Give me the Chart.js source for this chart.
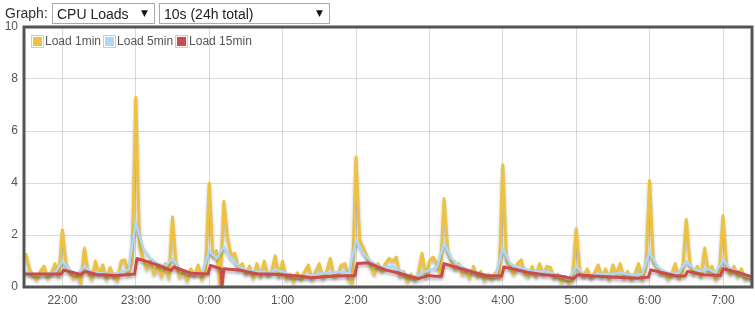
<!DOCTYPE html>
<html>
<head>
<meta charset="utf-8">
<script src="https://cdn.jsdelivr.net/npm/chart.js@4"></script>
<style>
html, body { margin: 0; padding: 0; background: #fff; }
body { width: 755px; height: 309px; position: relative; overflow: hidden; font-family: "Liberation Sans", Arial, sans-serif; }
#wrap { position: absolute; left: 0; top: 0; width: 755px; height: 309px; }
#bar { position: absolute; left: 0; top: 0; font-size: 14px; color: #333; }
#bar label { position: absolute; left: 5px; top: 5px; white-space: nowrap; }
.sel { position: absolute; top: 3px; height: 21px; border: 1px solid #a9a9a9; box-sizing: border-box; background: #fff; }
.sel select { appearance: none; -webkit-appearance: none; border: 0; background: transparent; font: 14px "Liberation Sans", Arial, sans-serif; color: #222; height: 19px; width: 100%; padding: 0 0 0 4px; margin: 0; outline: none; }
.sel span { position: absolute; right: 6px; top: 4px; font: 9px "DejaVu Sans", sans-serif; color: #111; pointer-events: none; }
#legend { position: absolute; left: 31px; top: 34px; font-size: 12px; color: #545454; display: flex; align-items: center; white-space: nowrap; }
#legend i { display: inline-block; border: 1px solid #ccc; padding: 1px; margin-right: 1px; }
#legend i b { display: block; width: 9px; height: 9px; }
#legend em { font-style: normal; margin-right: 2px; }
</style>
</head>
<body>
<div id="wrap"><canvas id="cpu_chart" width="755" height="309"></canvas></div>
<div id="bar">
  <label>Graph:</label>
  <div class="sel" style="left:52px;width:103px"><select><option>CPU Loads</option></select><span>&#9660;</span></div>
  <div class="sel" style="left:159px;width:171px"><select><option>10s (24h total)</option></select><span>&#9660;</span></div>
</div>
<div id="legend">
  <i><b style="background:#edc240"></b></i><em>Load 1min</em>
  <i><b style="background:#afd8f8"></b></i><em>Load 5min</em>
  <i><b style="background:#cb4b4b"></b></i><em>Load 15min</em>
</div>
<script>
// x axis is minutes relative to midnight
const hourTicks = [-120, -60, 0, 60, 120, 180, 240, 300, 360, 420];
const hourLabels = ['22:00', '23:00', '0:00', '1:00', '2:00', '3:00', '4:00', '5:00', '6:00', '7:00'];
const yTicks = [0, 2, 4, 6, 8, 10];

// load 1min, one sample every 3 minutes from 21:30
const t1Start = -150, t1Step = 3;
const load1 = [
  1.3, 0.7, 0.45, 0.3, 0.6, 0.8, 0.35, 0.55, 0.9, 0.4,
  2.2, 0.9, 0.6, 0.35, 0.5, 0.15, 1.5, 0.6, 0.3, 1.0,
  0.5, 0.85, 0.3, 0.75, 0.4, 0.25, 1.0, 1.05, 0.5, 1.0,
  7.3, 1.6, 1.1, 0.7, 1.0, 0.5, 0.85, 0.4, 0.9, 0.35,
  2.7, 0.8, 0.4, 0.6, 0.25, 0.7, 0.45, 0.85, 0.3, 0.6,
  4.0, 1.2, 1.4, 0.05, 3.3, 1.9, 1.2, 1.3, 0.7, 0.9,
  0.5, 0.8, 0.35, 0.9, 0.4, 1.0, 0.45, 0.6, 1.2, 0.4,
  1.0, 0.3, 0.5, 0.2, 0.55, 0.3, 0.6, 0.85, 0.3, 0.6,
  0.9, 0.35, 0.6, 1.1, 0.4, 0.5, 0.85, 0.9, 0.3, 0.15,
  5.0, 1.8, 1.5, 1.2, 0.8, 0.5, 0.9, 0.6, 0.9, 1.1,
  1.0, 1.15, 0.4, 0.6, 0.2, 0.5, 0.25, 0.55, 1.3, 0.4,
  1.0, 1.15, 0.9, 0.5, 3.4, 1.4, 1.0, 0.7, 0.9, 0.5,
  0.6, 0.35, 0.8, 0.4, 0.6, 0.25, 0.5, 0.3, 0.55, 0.35,
  4.7, 1.0, 0.8, 0.5, 0.9, 1.05, 0.5, 0.4, 0.8, 0.4,
  0.9, 0.5, 0.8, 0.75, 0.35, 0.5, 0.2, 0.4, 0.15, 0.3,
  2.25, 0.6, 0.4, 0.7, 0.35, 0.55, 0.85, 0.4, 0.7, 0.3,
  0.85, 0.5, 0.9, 0.35, 0.6, 0.3, 0.5, 0.9, 0.3, 0.8,
  4.1, 1.0, 0.8, 0.5, 0.6, 0.3, 0.5, 0.9, 0.35, 0.6,
  2.6, 0.9, 0.5, 0.8, 0.4, 1.5, 0.6, 0.8, 0.3, 0.55,
  2.75, 0.8, 0.5, 0.8, 0.4, 0.7, 0.3, 0.45, 0.2
];

// load 5min, one sample every 6 minutes
const t5Start = -150, t5Step = 6;
const load5 = [
  0.6, 0.5, 0.45, 0.5, 0.55, 1.0, 0.65, 0.5, 0.8, 0.55,
  0.55, 0.5, 0.5, 0.6, 0.65, 2.5, 1.5, 1.1, 0.9, 0.8,
  1.1, 0.7, 0.55, 0.5, 0.5, 1.4, 1.1, 1.55, 1.1, 0.8,
  0.65, 0.6, 0.6, 0.55, 0.65, 0.6, 0.45, 0.4, 0.4, 0.45,
  0.5, 0.55, 0.55, 0.6, 0.5, 1.8, 1.3, 1.0, 0.8, 0.75,
  0.8, 0.65, 0.45, 0.4, 0.55, 0.65, 0.75, 1.7, 1.1, 0.85,
  0.7, 0.6, 0.5, 0.45, 0.4, 1.5, 0.9, 0.75, 0.7, 0.6,
  0.6, 0.6, 0.5, 0.4, 0.3, 0.8, 0.5, 0.45, 0.5, 0.5,
  0.5, 0.55, 0.5, 0.45, 0.5, 1.35, 0.8, 0.6, 0.5, 0.55,
  1.0, 0.7, 0.6, 0.7, 0.55, 1.05, 0.7, 0.6, 0.45, 0.35
];

// load 15min, read at its turning points
const t15 = [
  -151, -121, -119, -105, -101, -92, -75, -61, -59, -43,
  -31, -29, -15, -1, 1, 9.5, 10.5, 12, 26, 39,
  49, 59, 75, 83, 103, 119, 121, 130, 144, 157,
  171, 179, 185, 190, 192, 201, 214, 226, 239, 241,
  248, 260, 273, 287, 298, 301, 314, 328, 350, 359,
  361, 374, 382, 389, 391, 404, 418, 420, 432, 444
];
const load15 = [
  0.5, 0.5, 0.65, 0.48, 0.6, 0.48, 0.44, 0.5, 1.1, 0.86,
  0.64, 0.77, 0.53, 0.5, 0.83, 0.7, 0.06, 0.7, 0.64, 0.51,
  0.5, 0.47, 0.41, 0.36, 0.42, 0.44, 0.9, 0.93, 0.66, 0.51,
  0.32, 0.44, 0.41, 0.41, 0.9, 0.77, 0.6, 0.44, 0.42, 0.77,
  0.7, 0.57, 0.47, 0.42, 0.32, 0.47, 0.42, 0.38, 0.34, 0.38,
  0.66, 0.51, 0.42, 0.42, 0.6, 0.47, 0.44, 0.7, 0.57, 0.38
];

const pts1 = load1.map((v, i) => ({ x: t1Start + i * t1Step, y: v }));
const pts5 = load5.map((v, i) => ({ x: t5Start + i * t5Step, y: v }));
const pts15 = load15.map((v, i) => ({ x: t15[i], y: v }));

// soft grey shadow under each line
const lineShadow = {
  id: 'lineShadow',
  beforeDatasetDraw(chart) {
    const c = chart.ctx;
    c.save();
    c.shadowColor = 'rgba(0,0,0,0.28)';
    c.shadowBlur = 3;
    c.shadowOffsetY = 2.5;
  },
  afterDatasetDraw(chart) {
    chart.ctx.restore();
  }
};

// frame round the plot
const plotFrame = {
  id: 'plotFrame',
  afterDatasetsDraw(chart) {
    const a = chart.chartArea, c = chart.ctx;
    c.save();
    c.strokeStyle = '#545454';
    c.lineWidth = 3;
    c.strokeRect(a.left, a.top, a.right - a.left, a.bottom - a.top);
    c.restore();
  }
};

const gridColor = 'rgba(84,84,84,0.22)';

const config = {
  type: 'line',
  data: {
    datasets: [
      { label: 'Load 15min', data: pts15, borderColor: '#cb4b4b', borderWidth: 3, order: 1 },
      { label: 'Load 5min', data: pts5, borderColor: '#afd8f8', borderWidth: 2.5, order: 2 },
      { label: 'Load 1min', data: pts1, borderColor: '#edc240', borderWidth: 3, order: 3 }
    ]
  },
  options: {
    responsive: false,
    animation: false,
    events: [],
    layout: { padding: { top: 27, right: 3, left: 0, bottom: 0 } },
    elements: { point: { radius: 0 }, line: { tension: 0, fill: false, borderJoinStyle: 'round' } },
    scales: {
      x: {
        type: 'linear',
        min: -151.4,
        max: 443.7,
        afterBuildTicks: s => { s.ticks = hourTicks.map(v => ({ value: v })); },
        afterFit: s => { s.height = 22; },
        ticks: {
          autoSkip: false,
          maxRotation: 0,
          padding: 6,
          color: '#545454',
          font: { family: '"Liberation Sans", Arial, sans-serif', size: 12 },
          callback: v => hourLabels[hourTicks.indexOf(v)]
        },
        grid: { color: gridColor, drawTicks: false },
        border: { display: false }
      },
      y: {
        min: 0,
        max: 10,
        afterBuildTicks: s => { s.ticks = yTicks.map(v => ({ value: v })); },
        afterFit: s => { s.width = 24; },
        ticks: {
          padding: 6,
          color: '#545454',
          font: { family: '"Liberation Sans", Arial, sans-serif', size: 12 },
          callback: v => String(v)
        },
        grid: { color: gridColor, drawTicks: false },
        border: { display: false }
      }
    },
    plugins: {
      legend: { display: false },
      tooltip: { enabled: false }
    }
  },
  plugins: [lineShadow, plotFrame]
};

const cpu_chart = new Chart(document.getElementById('cpu_chart'), config);
</script>
</body>
</html>
